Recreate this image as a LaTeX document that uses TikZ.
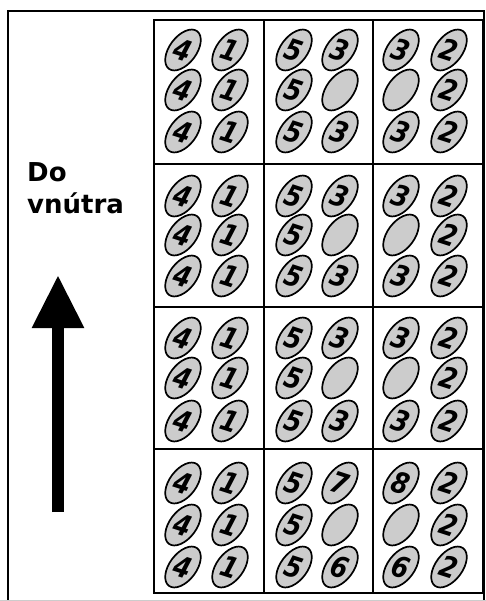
\documentclass[tikz,border=0pt]{standalone}
\usepackage{fontspec}
\newfontfamily\labelfont{DejaVu Sans}
\usetikzlibrary{shapes.geometric,arrows.meta}
\begin{document}
\begin{tikzpicture}[x=1pt,y=-1pt,
  oval/.style={ellipse, draw=black, line width=1.7pt, fill=gray!40, minimum width=47pt, minimum height=27pt, inner sep=0pt, rotate=53},
  digit/.style={font=\labelfont\fontsize{29}{29}\selectfont\bfseries\itshape, inner sep=0pt, rotate=-18, xscale=0.85},
  gridline/.style={line width=2.4pt},
  frame/.style={line width=1.8pt},
  lbl/.style={font=\labelfont\bfseries\fontsize{26}{30}\selectfont, anchor=base west, inner sep=0pt}]
\useasboundingbox (0,0) rectangle (486,601);
% outer frame
\draw[frame] (8,601) -- (8,11) -- (484,11) -- (484,601);
\draw[gray!40, line width=1pt] (0,600.5) -- (486,600.5);
% grid
\draw[gridline] (154,20) rectangle (483,593);
\draw[gridline] (264,20) -- (264,593) (373,20) -- (373,593)
  (154,164) -- (483,164) (154,307) -- (483,307) (154,449) -- (483,449);
% cells
\foreach \n/\xa/\xb/\ya/\yb/\yc/\da/\db/\dc/\dd/\de/\df in {
  11/183/230/50/90/132/4/1/4/1/4/1,
  12/294/340/50/90/132/5/3/5//5/3,
  13/401/449/50/90/132/3/2//2/3/2,
  21/183/230/196/235/276/4/1/4/1/4/1,
  22/294/340/196/235/276/5/3/5//5/3,
  23/401/449/196/235/276/3/2//2/3/2,
  31/183/230/338/378/421/4/1/4/1/4/1,
  32/294/340/338/378/421/5/3/5//5/3,
  33/401/449/338/378/421/3/2//2/3/2,
  41/183/230/483/525/567/4/1/4/1/4/1,
  42/294/340/483/525/567/5/7/5//5/6,
  43/401/449/483/525/567/8/2//2/6/2}{
  \foreach \x/\y/\d [count=\k] in {\xa/\ya/\da,\xb/\ya/\db,\xa/\yb/\dc,\xb/\yb/\dd,\xa/\yc/\de,\xb/\yc/\df}{
    \node[oval] (e\n-\k) at (\x,\y) {};
    \node[digit] (d\n-\k) at (e\n-\k.center) {\d};
  }
}
% label
\node[lbl] (t1) at (27,182) {Do};
\node[lbl] (t2) at (27,214) {vnútra};
% arrow
\coordinate (abot) at (58,512);
\coordinate (atop) at (58,275);
\draw[line width=12pt, -{Triangle[length=53pt,width=49pt]}] (abot) -- (atop);
\end{tikzpicture}
\end{document}
